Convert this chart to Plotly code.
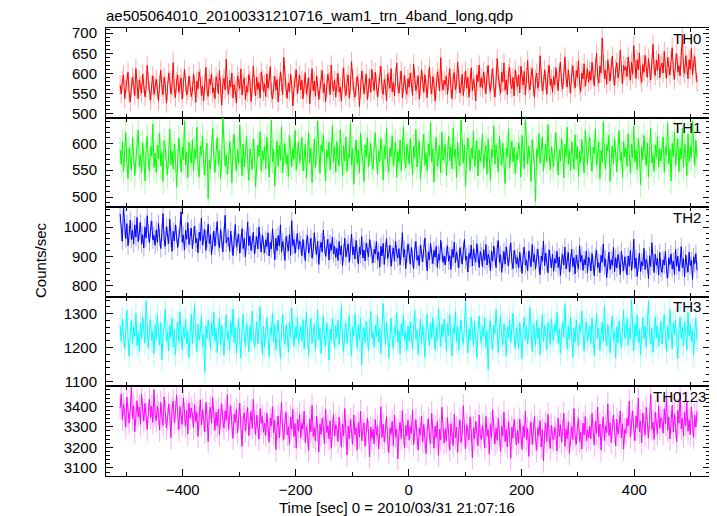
import plotly.graph_objects as go
from plotly.subplots import make_subplots

# time bin centres [sec] (2-s sampling of the light curves)
time_s = list(range(-511, 512, 2))

th0 = [
    571, 549, 582, 596, 538, 560, 577, 603, 552, 529, 566, 590, 574, 545, 612, 561,
    537, 584, 569, 551, 598, 575, 542, 563, 620, 580, 556, 533, 571, 594, 548, 567,
    585, 559, 531, 574, 608, 566, 547, 590, 572, 526, 557, 601, 583, 549, 568, 627,
    561, 540, 579, 596, 553, 571, 589, 536, 564, 610, 577, 546, 558, 593, 570, 542,
    556, 598, 573, 528, 581, 562, 604, 587, 545, 569, 532, 576, 615, 558, 543, 586,
    572, 599, 551, 564, 537, 592, 578, 549, 607, 566, 521, 574, 588, 559, 635, 570,
    548, 583, 566, 601, 539, 572, 557, 526, 594, 579, 562, 611, 546, 575, 589, 534,
    568, 553, 597, 581, 530, 565, 618, 572, 544, 591, 560, 577, 539, 603, 586, 555,
    574, 542, 599, 563, 582, 617, 551, 536, 570, 593, 558, 585, 529, 567, 604, 578,
    547, 640, 591, 561, 538, 576, 555, 598, 572, 519, 563, 587, 609, 550, 574, 596,
    559, 583, 537, 571, 602, 548, 565, 589, 524, 576, 612, 557, 581, 543, 594, 568,
    535, 561, 586, 607, 552, 574, 529, 563, 598, 579, 547, 621, 570, 556, 584, 541,
    577, 600, 553, 566, 531, 589, 614, 562, 545, 578, 596, 538, 570, 629, 583, 556,
    541, 567, 592, 574, 518, 561, 606, 585, 549, 572, 598, 535, 564, 587, 553, 610,
    582, 557, 603, 574, 541, 566, 595, 618, 560, 548, 585, 571, 532, 599, 580, 563,
    612, 554, 577, 544, 590, 626, 569, 551, 583, 606, 539, 572, 595, 561, 548, 587,
    566, 601, 579, 545, 623, 588, 557, 572, 594, 536, 568, 609, 581, 553, 597, 564,
    540, 585, 616, 570, 549, 592, 575, 531, 562, 604, 587, 556, 639, 578, 559, 583,
    571, 594, 548, 580, 612, 565, 537, 586, 602, 559, 574, 628, 583, 551, 567, 598,
    545, 579, 606, 563, 590, 541, 576, 614, 557, 585, 569, 532, 597, 580, 621, 566,
    589, 563, 604, 578, 549, 596, 620, 571, 555, 587, 612, 566, 541, 583, 637, 592,
    568, 551, 603, 579, 626, 558, 584, 547, 599, 615, 573, 562, 590, 544, 608, 581,
    567, 596, 552, 618, 583, 571, 605, 546, 589, 632, 575, 559, 594, 612, 568, 540,
    586, 601, 563, 579, 644, 591, 556, 572, 609, 583, 548, 597, 620, 570, 586, 553,
    592, 571, 614, 585, 557, 603, 628, 579, 562, 596, 641, 588, 566, 609, 574, 551,
    598, 619, 583, 564, 607, 590, 632, 572, 555, 601, 586, 624, 568, 593, 611, 578,
    605, 583, 628, 597, 569, 614, 650, 591, 576, 619, 601, 688, 622, 587, 608, 573,
    634, 599, 581, 616, 643, 594, 570, 611, 627, 589, 604, 658, 596, 575, 620, 608,
    617, 592, 641, 606, 583, 628, 598, 669, 613, 587, 634, 609, 651, 596, 578, 622,
    603, 645, 615, 590, 637, 601, 584, 626, 672, 611, 595, 633, 607, 648, 589, 619,
    626, 601, 655, 612, 588, 640, 617, 596, 631, 664, 608, 585, 627, 649, 603, 619,
    594, 638, 695, 613, 599, 644, 621, 587, 634, 610, 662, 596, 625, 642, 604, 578,
]

th1 = [
    588, 561, 603, 547, 579, 620, 566, 534, 592, 575, 551, 611, 584, 540, 569, 598,
    625, 557, 578, 545, 601, 572, 530, 586, 613, 563, 549, 594, 577, 636, 555, 582,
    546, 597, 571, 619, 558, 583, 529, 605, 590, 564, 541, 578, 627, 560, 586, 552,
    599, 574, 518, 566, 610, 581, 547, 593, 570, 641, 559, 584, 536, 602, 575, 563,
    607, 548, 589, 572, 630, 556, 538, 595, 578, 614, 563, 541, 585, 600, 497, 569,
    553, 592, 628, 574, 546, 583, 611, 560, 587, 534, 572, 648, 596, 558, 579, 543,
    565, 603, 581, 526, 594, 617, 571, 549, 588, 562, 634, 577, 540, 599, 556, 582,
    613, 568, 531, 590, 574, 552, 608, 585, 519, 563, 597, 576, 622, 548, 586, 570,
    594, 553, 612, 578, 537, 581, 643, 566, 589, 521, 574, 605, 557, 596, 568, 631,
    545, 583, 600, 562, 579, 538, 615, 587, 556, 592, 571, 624, 550, 577, 603, 564,
    580, 611, 549, 573, 598, 535, 586, 620, 563, 591, 527, 576, 608, 555, 582, 642,
    569, 544, 597, 583, 616, 561, 530, 588, 574, 602, 551, 579, 633, 566, 594, 547,
    603, 571, 558, 625, 585, 539, 596, 567, 612, 548, 581, 573, 637, 559, 590, 524,
    577, 606, 562, 588, 545, 619, 584, 568, 529, 597, 574, 611, 556, 583, 600, 565,
    551, 592, 620, 575, 543, 586, 567, 609, 583, 532, 595, 571, 628, 560, 547, 591,
    576, 614, 558, 579, 602, 537, 585, 565, 606, 549, 588, 631, 571, 554, 598, 580,
    562, 609, 578, 541, 595, 573, 626, 556, 587, 604, 533, 570, 592, 617, 559, 581,
    548, 599, 576, 639, 565, 590, 528, 583, 611, 557, 574, 596, 545, 621, 568, 587,
    598, 540, 581, 613, 567, 594, 552, 629, 575, 589, 536, 602, 571, 558, 644, 584,
    563, 597, 520, 578, 610, 586, 549, 591, 572, 623, 556, 580, 605, 539, 588, 566,
    584, 617, 553, 579, 596, 542, 608, 570, 531, 589, 574, 632, 561, 597, 578, 546,
    613, 583, 559, 600, 568, 525, 591, 575, 627, 554, 585, 604, 566, 593, 543, 580,
    569, 601, 588, 537, 615, 576, 553, 646, 584, 562, 595, 571, 529, 607, 581, 557,
    492, 590, 574, 618, 563, 586, 612, 548, 577, 599, 566, 635, 582, 551, 594, 570,
    556, 593, 620, 574, 541, 588, 567, 609, 582, 536, 598, 575, 630, 561, 587, 549,
    603, 579, 552, 616, 571, 594, 538, 585, 564, 607, 577, 545, 624, 589, 560, 596,
    611, 570, 548, 593, 581, 627, 559, 576, 603, 534, 587, 565, 640, 578, 552, 598,
    586, 615, 529, 571, 595, 562, 608, 580, 547, 591, 624, 568, 583, 536, 603, 575,
    592, 557, 618, 581, 544, 599, 573, 632, 566, 587, 551, 609, 578, 523, 594, 570,
    615, 582, 559, 601, 537, 586, 628, 563, 579, 548, 597, 574, 613, 556, 590, 567,
    584, 612, 546, 593, 577, 637, 561, 589, 530, 600, 575, 621, 558, 584, 609, 547,
    592, 571, 628, 555, 598, 582, 540, 617, 566, 595, 573, 642, 588, 559, 606, 574,
]

th2 = [
    1045, 983, 952, 1071, 998, 961, 1012, 937, 975, 1024, 958, 990, 943, 1008, 966, 1033,
    951, 987, 1016, 942, 974, 929, 1001, 963, 1039, 980, 947, 995, 1020, 956, 972, 938,
    991, 948, 1013, 965, 927, 982, 1046, 957, 935, 1002, 971, 944, 1027, 962, 918, 986,
    953, 1008, 976, 931, 965, 994, 1052, 949, 973, 922, 989, 959, 1015, 941, 968, 997,
    927, 972, 1004, 946, 961, 913, 983, 954, 1031, 939, 966, 991, 921, 958, 1010, 944,
    975, 906, 952, 987, 935, 969, 1019, 948, 930, 993, 957, 916, 974, 1040, 946, 962,
    965, 918, 987, 941, 903, 956, 1009, 932, 949, 976, 911, 944, 995, 927, 962, 898,
    953, 1018, 937, 970, 921, 947, 983, 908, 941, 968, 926, 1001, 952, 915, 974, 938,
    912, 957, 934, 981, 902, 948, 926, 995, 941, 889, 963, 920, 972, 936, 1008, 915,
    951, 930, 887, 968, 943, 919, 975, 904, 1022, 937, 958, 911, 946, 979, 925, 953,
    941, 903, 958, 925, 886, 947, 971, 912, 930, 963, 895, 918, 981, 934, 907, 952,
    873, 926, 949, 915, 990, 938, 901, 927, 959, 888, 944, 921, 966, 909, 935, 897,
    928, 887, 951, 905, 937, 869, 914, 962, 899, 926, 943, 881, 918, 977, 906, 933,
    892, 955, 912, 874, 931, 907, 968, 895, 922, 885, 946, 917, 899, 958, 926, 903,
    879, 925, 908, 951, 888, 916, 864, 935, 902, 945, 873, 919, 961, 894, 910, 938,
    867, 906, 929, 884, 953, 911, 895, 927, 872, 918, 981, 899, 924, 859, 907, 943,
    913, 874, 931, 896, 858, 922, 951, 887, 904, 869, 938, 910, 882, 927, 963, 895,
    851, 916, 889, 944, 903, 876, 921, 898, 935, 863, 908, 887, 955, 919, 880, 902,
    871, 912, 936, 884, 903, 856, 924, 897, 949, 878, 915, 891, 862, 930, 905, 874,
    921, 958, 887, 901, 847, 911, 893, 939, 868, 926, 899, 881, 944, 908, 863, 917,
    902, 865, 924, 887, 941, 871, 908, 893, 852, 919, 884, 936, 899, 862, 927, 954,
    880, 906, 846, 891, 917, 874, 933, 896, 868, 910, 947, 883, 859, 921, 892, 875,
    897, 861, 915, 879, 843, 904, 932, 870, 888, 851, 919, 893, 866, 941, 882, 907,
    857, 896, 925, 874, 838, 901, 884, 953, 869, 912, 880, 845, 923, 891, 862, 908,
    850, 893, 877, 918, 862, 899, 836, 884, 907, 871, 932, 858, 889, 914, 847, 879,
    925, 866, 896, 841, 905, 876, 858, 937, 882, 904, 853, 890, 871, 919, 845, 898,
    886, 851, 910, 873, 834, 897, 922, 862, 879, 845, 904, 881, 943, 867, 892, 828,
    873, 915, 856, 889, 870, 931, 848, 896, 861, 907, 884, 839, 918, 876, 852, 899,
    874, 838, 902, 867, 921, 853, 886, 959, 860, 895, 832, 877, 912, 849, 883, 868,
    928, 856, 891, 874, 825, 903, 866, 947, 881, 845, 908, 870, 893, 837, 914, 862,
    846, 889, 871, 918, 855, 827, 896, 873, 909, 858, 884, 839, 925, 867, 901, 850,
    878, 934, 862, 893, 831, 906, 874, 847, 915, 869, 888, 822, 899, 876, 910, 853,
]

th3 = [
    1265, 1218, 1284, 1239, 1196, 1253, 1310, 1227, 1174, 1248, 1279, 1211, 1262, 1233, 1301, 1205,
    1244, 1189, 1271, 1226, 1290, 1250, 1213, 1337, 1236, 1198, 1259, 1283, 1220, 1247, 1181, 1268,
    1224, 1296, 1241, 1207, 1273, 1163, 1235, 1258, 1313, 1219, 1245, 1190, 1266, 1230, 1287, 1202,
    1252, 1178, 1239, 1275, 1216, 1306, 1243, 1193, 1261, 1229, 1284, 1210, 1248, 1170, 1237, 1299,
    1212, 1257, 1326, 1234, 1188, 1269, 1221, 1245, 1292, 1204, 1238, 1128, 1263, 1227, 1281, 1250,
    1196, 1274, 1233, 1305, 1219, 1256, 1185, 1243, 1288, 1208, 1266, 1231, 1177, 1253, 1297, 1225,
    1249, 1192, 1278, 1236, 1314, 1214, 1260, 1183, 1242, 1285, 1223, 1169, 1255, 1299, 1230, 1206,
    1271, 1240, 1187, 1262, 1218, 1308, 1245, 1199, 1235, 1276, 1211, 1254, 1321, 1228, 1180, 1263,
    1201, 1247, 1289, 1226, 1173, 1259, 1238, 1302, 1215, 1270, 1193, 1244, 1281, 1222, 1166, 1256,
    1298, 1233, 1209, 1267, 1241, 1186, 1275, 1230, 1317, 1248, 1204, 1261, 1227, 1290, 1212, 1239,
    1262, 1219, 1283, 1196, 1246, 1305, 1231, 1177, 1254, 1286, 1213, 1240, 1268, 1191, 1237, 1311,
    1223, 1258, 1182, 1249, 1294, 1228, 1205, 1273, 1239, 1162, 1255, 1220, 1287, 1244, 1198, 1265,
    1230, 1281, 1208, 1257, 1324, 1225, 1186, 1248, 1272, 1213, 1243, 1296, 1219, 1175, 1260, 1235,
    1301, 1247, 1197, 1266, 1222, 1285, 1149, 1238, 1259, 1214, 1278, 1232, 1191, 1253, 1307, 1226,
    1245, 1200, 1267, 1231, 1292, 1217, 1256, 1183, 1240, 1330, 1262, 1209, 1274, 1236, 1168, 1251,
    1287, 1224, 1199, 1261, 1238, 1303, 1215, 1249, 1181, 1270, 1233, 1295, 1221, 1246, 1192, 1264,
    1218, 1276, 1240, 1195, 1258, 1309, 1226, 1252, 1179, 1243, 1285, 1212, 1266, 1230, 1171, 1254,
    1299, 1237, 1206, 1272, 1227, 1289, 1246, 1193, 1261, 1219, 1315, 1242, 1203, 1268, 1232, 1284,
    1250, 1189, 1271, 1235, 1298, 1223, 1176, 1259, 1240, 1306, 1216, 1263, 1192, 1247, 1281, 1228,
    1211, 1265, 1336, 1239, 1184, 1255, 1222, 1290, 1244, 1207, 1277, 1229, 1169, 1251, 1293, 1236,
    1213, 1262, 1234, 1288, 1201, 1248, 1135, 1257, 1279, 1225, 1193, 1266, 1241, 1312, 1220, 1185,
    1253, 1296, 1230, 1208, 1270, 1244, 1174, 1261, 1227, 1283, 1215, 1249, 1302, 1236, 1196, 1258,
    1242, 1197, 1275, 1231, 1168, 1256, 1289, 1222, 1263, 1210, 1247, 1318, 1234, 1187, 1269, 1250,
    1205, 1281, 1226, 1259, 1178, 1243, 1297, 1218, 1266, 1232, 1193, 1274, 1251, 1209, 1285, 1239,
    1221, 1270, 1246, 1304, 1212, 1255, 1183, 1238, 1277, 1229, 1327, 1248, 1195, 1263, 1224, 1290,
    1240, 1171, 1257, 1216, 1282, 1233, 1204, 1268, 1245, 1308, 1226, 1189, 1252, 1276, 1219, 1237,
    1264, 1211, 1287, 1235, 1176, 1249, 1300, 1228, 1257, 1192, 1243, 1274, 1217, 1323, 1239, 1205,
    1268, 1231, 1184, 1255, 1293, 1222, 1246, 1170, 1261, 1214, 1279, 1236, 1199, 1252, 1310, 1227,
    1238, 1285, 1207, 1259, 1224, 1341, 1247, 1190, 1270, 1233, 1296, 1215, 1253, 1178, 1241, 1288,
    1226, 1262, 1201, 1275, 1338, 1244, 1211, 1258, 1186, 1239, 1291, 1228, 1265, 1204, 1250, 1277,
    1210, 1256, 1298, 1232, 1187, 1264, 1223, 1312, 1245, 1196, 1273, 1237, 1281, 1214, 1166, 1249,
    1290, 1228, 1260, 1205, 1276, 1241, 1193, 1304, 1234, 1268, 1218, 1252, 1177, 1244, 1286, 1221,
]

th0123 = [
    3392, 3461, 3335, 3410, 3372, 3298, 3445, 3356, 3318, 3389, 3494, 3341, 3403, 3276, 3367, 3428,
    3350, 3397, 3312, 3459, 3381, 3329, 3414, 3363, 3287, 3376, 3436, 3344, 3401, 3322, 3480, 3358,
    3331, 3402, 3367, 3284, 3419, 3352, 3308, 3446, 3373, 3295, 3338, 3411, 3362, 3247, 3389, 3425,
    3321, 3370, 3456, 3336, 3287, 3398, 3349, 3312, 3441, 3365, 3302, 3380, 3265, 3417, 3343, 3391,
    3362, 3297, 3408, 3325, 3371, 3254, 3346, 3432, 3309, 3383, 3337, 3276, 3419, 3351, 3228, 3364,
    3396, 3318, 3442, 3341, 3283, 3372, 3305, 3387, 3261, 3349, 3413, 3328, 3294, 3378, 3332, 3456,
    3286, 3349, 3403, 3307, 3244, 3362, 3321, 3385, 3270, 3338, 3416, 3299, 3205, 3341, 3368, 3281,
    3329, 3395, 3258, 3314, 3376, 3292, 3434, 3326, 3263, 3357, 3302, 3240, 3389, 3318, 3351, 3274,
    3319, 3258, 3367, 3291, 3226, 3343, 3305, 3398, 3271, 3332, 3189, 3296, 3354, 3247, 3312, 3419,
    3283, 3238, 3327, 3371, 3262, 3301, 3214, 3348, 3290, 3385, 3253, 3316, 3196, 3337, 3279, 3361,
    3247, 3318, 3289, 3376, 3224, 3301, 3262, 3185, 3339, 3276, 3405, 3254, 3298, 3231, 3352, 3287,
    3178, 3313, 3264, 3342, 3295, 3218, 3387, 3271, 3306, 3242, 3330, 3196, 3283, 3361, 3257, 3310,
    3292, 3229, 3347, 3268, 3201, 3314, 3256, 3389, 3273, 3163, 3305, 3241, 3336, 3279, 3215, 3358,
    3262, 3297, 3187, 3321, 3250, 3376, 3233, 3284, 3319, 3206, 3267, 3343, 3276, 3154, 3299, 3245,
    3288, 3217, 3336, 3259, 3302, 3192, 3271, 3398, 3248, 3313, 3226, 3280, 3349, 3238, 3175, 3295,
    3264, 3327, 3209, 3357, 3252, 3290, 3145, 3276, 3321, 3243, 3379, 3268, 3199, 3307, 3256, 3334,
    3235, 3301, 3268, 3382, 3213, 3279, 3336, 3250, 3187, 3294, 3260, 3352, 3227, 3312, 3244, 3170,
    3285, 3339, 3256, 3219, 3367, 3273, 3196, 3304, 3248, 3326, 3162, 3289, 3237, 3395, 3266, 3222,
    3291, 3230, 3345, 3258, 3187, 3316, 3272, 3209, 3361, 3246, 3298, 3176, 3283, 3334, 3225, 3267,
    3403, 3251, 3194, 3310, 3262, 3237, 3349, 3281, 3150, 3296, 3243, 3327, 3270, 3208, 3358, 3255,
    3238, 3306, 3269, 3197, 3351, 3255, 3288, 3168, 3316, 3247, 3383, 3272, 3216, 3295, 3234, 3341,
    3261, 3180, 3304, 3256, 3372, 3229, 3287, 3202, 3325, 3266, 3148, 3299, 3245, 3336, 3273, 3211,
    3284, 3221, 3339, 3262, 3190, 3305, 3248, 3377, 3236, 3292, 3157, 3274, 3323, 3215, 3268, 3351,
    3242, 3186, 3297, 3258, 3330, 3203, 3286, 3134, 3271, 3318, 3229, 3361, 3255, 3195, 3309, 3247,
    3236, 3298, 3265, 3183, 3342, 3254, 3311, 3226, 3279, 3367, 3204, 3288, 3243, 3325, 3171, 3266,
    3301, 3238, 3389, 3257, 3215, 3294, 3340, 3229, 3276, 3192, 3318, 3261, 3350, 3233, 3285, 3248,
    3303, 3242, 3366, 3279, 3211, 3327, 3268, 3396, 3252, 3314, 3187, 3290, 3349, 3233, 3305, 3271,
    3412, 3258, 3320, 3224, 3296, 3359, 3281, 3207, 3338, 3264, 3301, 3378, 3246, 3315, 3192, 3287,
    3268, 3342, 3305, 3426, 3251, 3319, 3378, 3286, 3233, 3354, 3297, 3441, 3275, 3329, 3222, 3368,
    3310, 3262, 3395, 3301, 3247, 3336, 3459, 3288, 3324, 3239, 3372, 3313, 3266, 3402, 3294, 3345,
    3331, 3270, 3388, 3314, 3452, 3283, 3349, 3241, 3322, 3405, 3276, 3364, 3298, 3229, 3381, 3317,
    3468, 3290, 3342, 3255, 3372, 3306, 3419, 3278, 3335, 3261, 3397, 3320, 3249, 3358, 3299, 3376,
]

panel_labels = ["TH0", "TH1", "TH2", "TH3", "TH0123"]
series = [th0, th1, th2, th3, th0123]
errors = [24, 24, 30, 35, 57]
colors = ["#ff0000", "#00ff00", "#0000ff", "#00ffff", "#ff00ff"]
err_colors = ["rgba(255,0,0,0.35)", "rgba(0,255,0,0.35)", "rgba(0,0,255,0.35)",
              "rgba(0,255,255,0.35)", "rgba(255,0,255,0.35)"]
y_ranges = [[490, 713], [481, 648], [763, 1068], [1085, 1350], [3061, 3497]]
y_dtick = [50, 50, 100, 100, 100]
y_minor = [10, 10, 20, 20, 20]
label_right_px = [703, 703, 703, 703, 708]

# The page body has an 8-px margin: lay out in page pixels, shifted by OFF.
OFF = 8
W, H = 717 - OFF, 516 - OFF
PL, PR, PT, PB = 106, 710, 28, 476          # plot area in page pixels
ML, MR, MT, MB = PL - OFF, W - (PR - OFF), PT - OFF, H - (PB - OFF)
PW = PR - PL
PH = PB - PT
FONT = "Liberation Sans, Arial, Helvetica, sans-serif"

fig = make_subplots(rows=5, cols=1, shared_xaxes=True, vertical_spacing=0)

for i in range(5):
    ys = series[i]
    fig.add_trace(go.Scatter(
        x=time_s[:len(ys)], y=ys, mode="lines",
        line=dict(color=colors[i], width=1),
        error_y=dict(type="constant", value=errors[i], color=err_colors[i],
                     thickness=1, width=0),
        showlegend=False, hoverinfo="skip"), row=i + 1, col=1)
    fig.update_yaxes(
        range=y_ranges[i], tick0=0, dtick=y_dtick[i],
        ticks="inside", ticklen=7, tickcolor="black", tickwidth=1,
        minor=dict(dtick=y_minor[i], ticks="inside", ticklen=4, tickcolor="black"),
        showline=True, linecolor="black", linewidth=1, mirror="ticks",
        showgrid=False, zeroline=False, tickfont=dict(size=15, color="black"),
        ticklabelstandoff=5,
        row=i + 1, col=1)
    fig.update_xaxes(
        range=[-536, 534], tick0=0, dtick=200,
        ticks="inside", ticklen=7, tickcolor="black", tickwidth=1,
        minor=dict(dtick=100, ticks="inside", ticklen=4, tickcolor="black"),
        showline=True, linecolor="black", linewidth=1, mirror="ticks",
        showgrid=False, zeroline=False, tickfont=dict(size=15, color="black"),
        row=i + 1, col=1)
    yref = "y domain" if i == 0 else f"y{i + 1} domain"
    xref = "x domain" if i == 0 else f"x{i + 1} domain"
    fig.add_annotation(
        text=panel_labels[i], xref=xref, yref=yref,
        x=(label_right_px[i] - PL) / PW, y=1, xanchor="right", yanchor="middle",
        yshift=-10, showarrow=False, font=dict(size=15, color="black"))

fig.add_annotation(
    text="Time [sec] 0 = 2010/03/31 21:07:16", xref="paper", yref="paper",
    x=(397 - PL) / PW, y=0, yshift=-31, xanchor="center", yanchor="middle",
    showarrow=False, font=dict(size=15, color="black"))
fig.add_annotation(
    text="Counts/sec", xref="paper", yref="paper", textangle=-90,
    x=(41 - PL) / PW, y=(PB - 260) / PH, xanchor="center", yanchor="middle",
    showarrow=False, font=dict(size=15, color="black"))

fig.update_layout(
    width=W, height=H,
    margin=dict(l=ML, r=MR, t=MT, b=MB),
    paper_bgcolor="white", plot_bgcolor="white",
    font=dict(family=FONT, color="black", size=15),
    title=dict(text="ae505064010_20100331210716_wam1_trn_4band_long.qdp",
               xref="paper", x=0, xanchor="left",
               yref="container", y=1 - (16 - OFF) / H, yanchor="middle",
               font=dict(size=15, color="black")),
)

fig.write_html("out.html")
